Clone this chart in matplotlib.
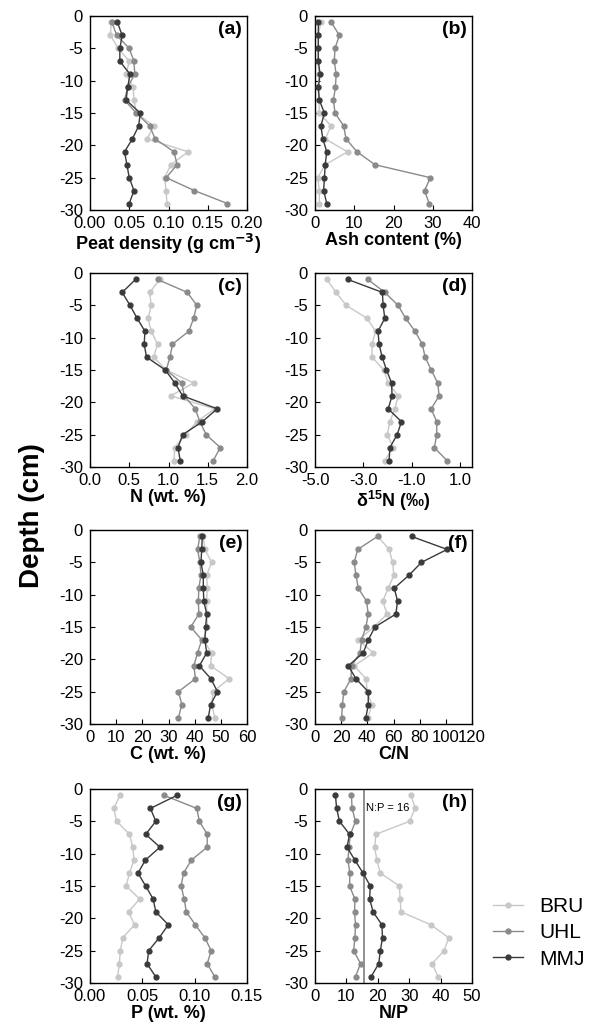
import matplotlib
matplotlib.use("Agg")
import matplotlib.pyplot as plt
import numpy as np

plt.rcParams['font.family'] = ['Liberation Sans', 'DejaVu Sans']
plt.rcParams['axes.unicode_minus'] = False

depth = [-1, -3, -5, -7, -9, -11, -13, -15, -17, -19, -21, -23, -25, -27, -29]
sites = ["BRU", "UHL", "MMJ"]
colors = {"BRU": "#c8c8c8", "UHL": "#8a8a8a", "MMJ": "#3a3a3a"}

# (a) Peat density
dens_BRU = [0.027, 0.026, 0.036, 0.050, 0.046, 0.055, 0.056, 0.059, 0.081, 0.073, 0.125, 0.103, 0.095, 0.097, 0.098]
dens_UHL = [0.028, 0.034, 0.050, 0.056, 0.057, 0.048, 0.044, 0.059, 0.076, 0.083, 0.107, 0.111, 0.097, 0.133, 0.175]
dens_MMJ = [0.035, 0.041, 0.038, 0.038, 0.051, 0.048, 0.046, 0.064, 0.062, 0.054, 0.044, 0.047, 0.050, 0.056, 0.050]
# (b) Ash content
ash_BRU = [1.5, 0.8, 0.8, 0.8, 1.0, 0.8, 1.0, 1.1, 4.1, 2.6, 8.3, 2.6, 0.7, 1.1, 1.1]
ash_UHL = [4.2, 6.2, 5.1, 4.9, 5.4, 5.2, 4.7, 5.1, 7.3, 7.9, 10.7, 15.3, 29.4, 27.9, 29.1]
ash_MMJ = [0.85, 0.85, 0.85, 0.85, 1.3, 0.85, 1.1, 2.4, 1.5, 2.0, 3.0, 2.6, 2.4, 2.2, 3.0]
# (c) N
n_BRU = [0.89, 0.76, 0.78, 0.74, 0.78, 0.86, 0.81, 0.97, 1.32, 1.03, 1.59, 1.36, 1.22, 1.08, 1.07]
n_UHL = [0.86, 1.24, 1.36, 1.32, 1.26, 1.05, 1.02, 0.97, 1.17, 1.20, 1.34, 1.40, 1.48, 1.66, 1.57]
n_MMJ = [0.58, 0.41, 0.51, 0.60, 0.70, 0.69, 0.72, 0.96, 1.08, 1.18, 1.62, 1.43, 1.18, 1.12, 1.15]
# (d) d15N
d15_BRU = [-4.51, -4.13, -3.71, -2.85, -2.49, -2.64, -2.64, -2.15, -1.97, -1.56, -1.69, -1.90, -2.01, -1.76, -2.11]
d15_UHL = [-2.81, -2.11, -1.56, -1.25, -0.86, -0.56, -0.44, -0.19, 0.08, 0.14, -0.19, 0.04, 0.04, -0.06, 0.46]
d15_MMJ = [-3.64, -2.21, -2.18, -2.11, -2.39, -2.35, -2.22, -2.04, -1.83, -1.81, -1.97, -1.42, -1.60, -1.90, -1.93]
# (e) C
c_BRU = [43.3, 43.9, 46.5, 44.6, 44.8, 44.6, 44.6, 44.9, 43.3, 46.5, 46.1, 53.2, 47.0, 46.5, 47.7]
c_UHL = [42.0, 41.1, 42.0, 42.4, 41.6, 41.4, 41.6, 38.5, 42.7, 41.1, 39.7, 40.3, 33.8, 35.1, 33.8]
c_MMJ = [42.9, 42.7, 42.4, 43.3, 43.3, 43.5, 44.6, 44.2, 43.9, 44.6, 41.8, 46.2, 48.7, 46.1, 45.2]
# (f) C/N
cn_BRU = [48.0, 56.7, 59.3, 60.3, 56.0, 51.7, 55.2, 45.0, 33.1, 44.5, 30.0, 38.9, 40.0, 43.3, 40.7]
cn_UHL = [47.8, 32.6, 30.0, 31.3, 33.1, 39.4, 40.7, 38.9, 35.6, 34.4, 28.0, 27.5, 22.1, 20.9, 20.4]
cn_MMJ = [73.8, 101.0, 81.4, 71.8, 60.6, 63.1, 61.8, 45.8, 40.7, 36.9, 25.4, 31.3, 40.7, 40.7, 38.9]
# (g) P
p_BRU = [0.0287, 0.0226, 0.0255, 0.0377, 0.041, 0.042, 0.0377, 0.0345, 0.0474, 0.0368, 0.0426, 0.0313, 0.029, 0.028, 0.0265]
p_UHL = [0.071, 0.102, 0.1045, 0.112, 0.112, 0.0968, 0.0894, 0.087, 0.090, 0.092, 0.1006, 0.1097, 0.1158, 0.112, 0.119]
p_MMJ = [0.0829, 0.0577, 0.0629, 0.0532, 0.0668, 0.0529, 0.0458, 0.0532, 0.0603, 0.0629, 0.0748, 0.0661, 0.0561, 0.0545, 0.0626]
# (h) N/P
np_BRU = [30.6, 31.9, 30.1, 19.4, 19.0, 19.7, 20.8, 26.9, 27.1, 27.4, 36.9, 42.6, 41.1, 37.3, 39.2]
np_UHL = [11.6, 11.8, 12.9, 11.3, 10.8, 10.5, 11.1, 11.0, 12.7, 12.6, 12.9, 12.7, 12.3, 14.5, 12.9]
np_MMJ = [6.5, 6.9, 7.8, 11.0, 10.2, 12.7, 15.3, 17.6, 17.4, 18.5, 21.3, 21.5, 20.8, 20.3, 17.9]
np_ref = 16

panels = [
    ("(a)", (dens_BRU, dens_UHL, dens_MMJ), (0, 0.20), [0.00, 0.05, 0.10, 0.15, 0.20],
     ["0.00", "0.05", "0.10", "0.15", "0.20"], r"Peat density (g cm$^{\mathbf{-3}}$)"),
    ("(b)", (ash_BRU, ash_UHL, ash_MMJ), (0, 40), [0, 10, 20, 30, 40],
     ["0", "10", "20", "30", "40"], "Ash content (%)"),
    ("(c)", (n_BRU, n_UHL, n_MMJ), (0, 2.0), [0.0, 0.5, 1.0, 1.5, 2.0],
     ["0.0", "0.5", "1.0", "1.5", "2.0"], "N (wt. %)"),
    ("(d)", (d15_BRU, d15_UHL, d15_MMJ), (-5.0, 1.5), [-5.0, -3.0, -1.0, 1.0],
     ["-5.0", "-3.0", "-1.0", "1.0"], r"$\mathregular{\delta^{15}}$N (‰)"),
    ("(e)", (c_BRU, c_UHL, c_MMJ), (0, 60), [0, 10, 20, 30, 40, 50, 60],
     ["0", "10", "20", "30", "40", "50", "60"], "C (wt. %)"),
    ("(f)", (cn_BRU, cn_UHL, cn_MMJ), (0, 120), [0, 20, 40, 60, 80, 100, 120],
     ["0", "20", "40", "60", "80", "100", "120"], "C/N"),
    ("(g)", (p_BRU, p_UHL, p_MMJ), (0, 0.15), [0.00, 0.05, 0.10, 0.15],
     ["0.00", "0.05", "0.10", "0.15"], "P (wt. %)"),
    ("(h)", (np_BRU, np_UHL, np_MMJ), (0, 50), [0, 10, 20, 30, 40, 50],
     ["0", "10", "20", "30", "40", "50"], "N/P"),
]

fig = plt.figure(figsize=(5.95, 10.31), dpi=100)
W, H = 595.0, 1031.0
lefts = [90, 315]
bottoms = [210, 467, 724, 983]
aw, ah = 157, 194

handles = []
for i, (lab, series, xlim, xt, xtl, xlabel) in enumerate(panels):
    r, c = divmod(i, 2)
    ax = fig.add_axes([lefts[c] / W, 1 - bottoms[r] / H, aw / W, ah / H])
    if lab == "(h)":
        ax.axvline(np_ref - 0.4, color="#888888", lw=1.3, zorder=1)
        ax.text(np_ref + 0.3, -3, "N:P = 16", fontsize=8, ha="left", va="center")
    for s, vals in zip(sites, series):
        h, = ax.plot(vals, depth, '-o', color=colors[s], lw=1.0, ms=3.5,
                     mec=colors[s], label=s, zorder=3 if s == "MMJ" else 2)
        if i == 0:
            handles.append(h)
    ax.set_xlim(*xlim)
    ax.set_ylim(-30, 0)
    ax.set_xticks(xt)
    ax.set_xticklabels(xtl)
    ax.set_yticks([0, -5, -10, -15, -20, -25, -30])
    ax.set_yticklabels(["0", "-5", "-10", "-15", "-20", "-25", "-30"])
    ax.tick_params(direction="in", length=3.5, width=0.8, labelsize=12)
    ax.tick_params(axis="x", pad=4)
    ax.tick_params(axis="y", pad=5)
    for sp in ax.spines.values():
        sp.set_linewidth(1.0)
    ax.set_xlabel(xlabel, fontsize=13, fontweight="bold", labelpad=1)
    ax.text(0.97, 0.975, lab, transform=ax.transAxes, ha="right", va="top",
            fontsize=14, fontweight="bold")

fig.text(32 / W, 0.5, "Depth (cm)", rotation=90, ha="center", va="center",
         fontsize=20, fontweight="bold")

fig.legend(handles=handles, labels=sites, loc="lower left",
           bbox_to_anchor=(485 / W, 1 - 977 / H), frameon=False, fontsize=15,
           handlelength=1.4, handletextpad=0.8, labelspacing=0.35, borderaxespad=0)

fig.savefig("out.png", dpi=100)
